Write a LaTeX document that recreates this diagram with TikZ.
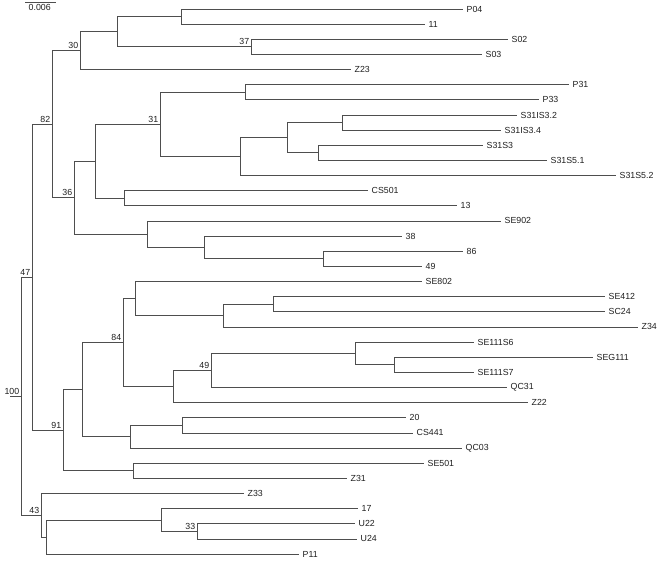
\documentclass[tikz,border=0pt]{standalone}
\usepackage{fontspec}
\setmainfont{Liberation Sans}
\usetikzlibrary{positioning}
\definecolor{treegray}{RGB}{78,78,78}
\definecolor{labdark}{RGB}{30,30,30}
\tikzset{
  branch/.style={draw=treegray, line width=0.8pt},
  leaflab/.style={anchor=west, inner sep=0pt, xshift=3.5pt, text=labdark,
                  font=\fontsize{8.8}{10}\selectfont},
  boot/.style={anchor=south east, inner sep=1.6pt, text=labdark,
               font=\fontsize{8.8}{10}\selectfont},
}

\begin{document}
\begin{tikzpicture}[x=1pt, y=-1pt]
    \useasboundingbox (0,0) rectangle (662,562);
    % leaves: name / label / tip x / row
    \foreach \n/\t/\x/\r in {p04/P04/463/0, l11/11/425/1, s02/S02/508/2, s03/S03/482/3,
        z23/Z23/351/4, p31/P31/569/5, p33/P33/539/6, s31is32/S31IS3.2/517/7,
        s31is34/S31IS3.4/501/8, s31s3/S31S3/483/9, s31s51/S31S5.1/547/10,
        s31s52/S31S5.2/616/11, cs501/CS501/368/12, l13/13/457/13, se902/SE902/501/14,
        l38/38/402/15, l86/86/463/16, l49/49/422/17, se802/SE802/422/18,
        se412/SE412/605/19, sc24/SC24/605/20, z34/Z34/638/21, se111s6/SE111S6/474/22,
        seg111/SEG111/593/23, se111s7/SE111S7/474/24, qc31/QC31/507/25, z22/Z22/528/26,
        l20/20/406/27, cs441/CS441/413/28, qc03/QC03/462/29, se501/SE501/424/30,
        z31/Z31/347/31, z33/Z33/244/32, l17/17/358/33, u22/U22/355/34, u24/U24/357/35,
        p11/P11/299/36}{
      \coordinate (\n) at (\x,{9+15.14*\r});
      \node[leaflab] (\n-lab) at (\n) {\t};
    }
    % internal nodes: name / x / row (midway between first and last child)
    \foreach \n/\x/\r in {a1/181/0.5, a2/251/2.5, a3/117/1.5, n30/80/2.75,
        b1/245/5.5, b2/342/7.5, b3/318/9.5, b4/287/8.5, b5/240/9.75, n31/160/7.625,
        c1/124/12.5, c2/95/10.0625, d1/323/16.5, d2/204/15.75, d3/147/14.875,
        n36/74/12.46875, n82/52/7.609375,
        e1/273/19.5, e2/223/20.25, e3/135/19.125, f1/394/23.5, f2/355/22.75,
        n49/211/23.875, f3/173/24.9375, n84/123/22.03125, g1/182/27.5, g2/130/28.25,
        g3/82/25.140625, h1/133/30.5, n91/63/27.8203, n47/32/17.7148,
        k1/197/34.5, k2/161/33.75, k3/46/34.875, n43/41/33.4375, root/21/25.576}{
      \coordinate (\n) at (\x,{9+15.14*\r});
    }
    \coordinate (rootstub) at (10,{9+15.14*25.576});
    % branches
    \foreach \p/\c in {a1/p04, a1/l11, a2/s02, a2/s03, a3/a1, a3/a2, n30/a3, n30/z23,
        b1/p31, b1/p33, b2/s31is32, b2/s31is34, b3/s31s3, b3/s31s51, b4/b2, b4/b3,
        b5/b4, b5/s31s52, n31/b1, n31/b5, c1/cs501, c1/l13, c2/n31, c2/c1,
        d1/l86, d1/l49, d2/l38, d2/d1, d3/se902, d3/d2, n36/c2, n36/d3, n82/n30, n82/n36,
        e1/se412, e1/sc24, e2/e1, e2/z34, e3/se802, e3/e2,
        f1/seg111, f1/se111s7, f2/se111s6, f2/f1, n49/f2, n49/qc31, f3/n49, f3/z22,
        n84/e3, n84/f3, g1/l20, g1/cs441, g2/g1, g2/qc03, g3/n84, g3/g2,
        h1/se501, h1/z31, n91/g3, n91/h1, n47/n82, n47/n91,
        k1/u22, k1/u24, k2/l17, k2/k1, k3/k2, k3/p11, n43/z33, n43/k3,
        root/n47, root/n43}{
      \draw[branch] (\p) |- (\c);
    }
    \draw[branch] (root) -- (rootstub);
    % bootstrap values
    \foreach \n/\v in {n30/30, a2/37, n82/82, n31/31, n36/36, n47/47, root/100,
        n84/84, n49/49, n91/91, n43/43, k1/33}{
      \node[boot] (\n-bs) at (\n) {\v};
    }
    % scale bar
    \coordinate (sb-l) at (25,2);
    \coordinate (sb-r) at (56,2);
    \draw[branch] (sb-l) -- (sb-r);
    \node[leaflab, anchor=north west, xshift=0pt, yshift=-2.5pt] (sb-lab) at (sb-l) {0.006};
\end{tikzpicture}
\end{document}
